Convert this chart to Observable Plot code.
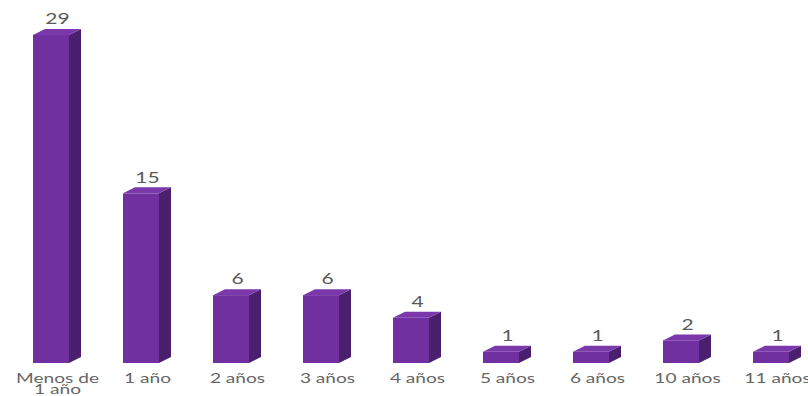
<!DOCTYPE html>
<html><head><meta charset="utf-8">
<script src="https://cdn.jsdelivr.net/npm/d3@7"></script>
<script src="https://cdn.jsdelivr.net/npm/@observablehq/plot@0.6"></script>
<style>body{margin:0;background:#fff;overflow:hidden}</style>
</head><body><div id="chart"></div>
<script>
const categories = ["Menos de 1 año", "1 año", "2 años", "3 años", "4 años", "5 años", "6 años", "10 años", "11 años"];
const values = [29, 15, 6, 6, 4, 1, 1, 2, 1];
const data = categories.map((c, i) => ({category: c, value: values[i]}));

const DEPTH_X = 12, DEPTH_Y = 6;
const FRONT = "#7030A0", SIDE = "#4A1F6D", TOP = "#7A38AB";

const chart = Plot.plot({
  width: 808,
  height: 396,
  marginLeft: 0,
  marginRight: 0,
  marginTop: 35,
  marginBottom: 33,
  style: {fontFamily: "Lato, 'Open Sans', sans-serif", background: "#fff", overflow: "visible"},
  x: {domain: categories, range: [6, 816], paddingInner: 0.6, paddingOuter: 0.3, axis: null},
  y: {domain: [0, 29], range: [363, 35], axis: null},
  marks: [
    Plot.barY(data, {x: "category", y: "value", fill: FRONT}),
    Plot.text(data, {x: "category", y: "value", text: d => String(d.value), dy: -16, dx: 6, fontSize: 15, fill: "#595959"}),
    Plot.axisX({
      label: null,
      tickSize: 0,
      tickPadding: 11,
      fontSize: 12.5,
      lineHeight: 0.92,
      color: "#666666",
      dx: 6,
      tickFormat: d => d === "Menos de 1 año" ? "Menos de\n1 año" : d
    })
  ]
});

// 3D side and top faces, positioned through Plot's own scales
const sx = chart.scale("x"), sy = chart.scale("y");
const bw = sx.bandwidth;
const svg = d3.select(chart);
const g = svg.insert("g", "g[aria-label='text']").attr("aria-label", "bar-depth");
for (const d of data) {
  const x0 = sx.apply(d.category), x1 = x0 + bw;
  const yt = sy.apply(d.value), yb = sy.apply(0);
  g.append("polygon")
    .attr("points", [[x1, yb], [x1 + DEPTH_X, yb - DEPTH_Y], [x1 + DEPTH_X, yt - DEPTH_Y], [x1, yt]].join(" "))
    .attr("fill", SIDE);
  g.append("polygon")
    .attr("points", [[x0, yt], [x0 + DEPTH_X, yt - DEPTH_Y], [x1 + DEPTH_X, yt - DEPTH_Y], [x1, yt]].join(" "))
    .attr("fill", TOP);
}

// the reference's text is horizontally stretched
function stretch(node, k) {
  const t = d3.select(node);
  let tr = t.attr("transform");
  if (!tr) {
    const x = +(t.attr("x") || 0), y = +(t.attr("y") || 0);
    t.attr("x", null).attr("y", null);
    tr = `translate(${x},${y})`;
  }
  t.attr("transform", `${tr} scale(${k},1)`);
}
svg.selectAll("text").each(function () {
  const s = this.textContent.trim();
  stretch(this, /^\d+$/.test(s) ? 1.4 : 1.53);
});

document.getElementById("chart").appendChild(chart);
</script>
</body></html>
